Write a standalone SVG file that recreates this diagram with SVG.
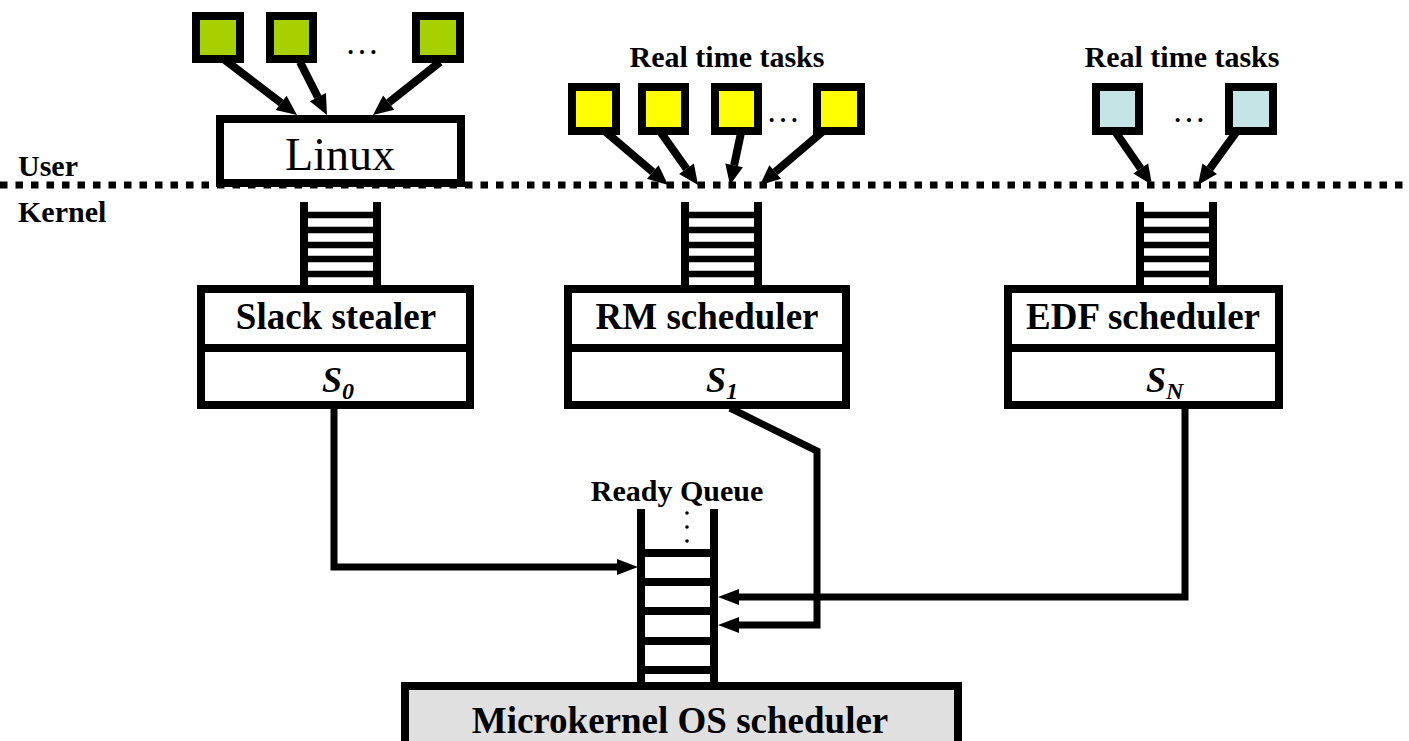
<svg xmlns="http://www.w3.org/2000/svg" width="1409" height="741" viewBox="0 0 1409 741">
<style>
.t{font-family:"Liberation Serif","Times New Roman",serif;font-weight:bold;fill:#000}
.box{fill:#fff;stroke:#000;stroke-width:8}
.sq{stroke:#000;stroke-width:8}
.q{stroke:#000;stroke-width:8;fill:none}
.r{stroke:#000;stroke-width:6.5}
.c{stroke:#000;stroke-width:7;fill:none;stroke-linejoin:miter}
.ta{stroke:#000;stroke-width:8;fill:none}
</style>
<defs>
<marker id="ah" markerUnits="userSpaceOnUse" markerWidth="21" markerHeight="16" refX="0" refY="8" orient="auto" overflow="visible"><path d="M0,0 L21,8 L0,16 z" fill="#000"/></marker>
<marker id="th" markerUnits="userSpaceOnUse" markerWidth="20" markerHeight="18" refX="0" refY="9" orient="auto" overflow="visible"><path d="M0,0 L20,9 L0,18 z" fill="#000"/></marker>
</defs>
<rect width="1409" height="741" fill="#fff"/>

<!-- user / kernel boundary -->
<g id="boundary">
<line x1="0" y1="185" x2="1409" y2="185" stroke="#000" stroke-width="7" stroke-dasharray="7.5 8"/>
<text class="t" x="18" y="176" font-size="30">User</text>
<text class="t" x="18" y="222" font-size="30">Kernel</text>
</g>

<!-- task connectors -->
<g id="task-connectors">
<line class="ta" x1="225" y1="60" x2="281.1" y2="102.9" marker-end="url(#th)"/>
<line class="ta" x1="300" y1="62" x2="317.9" y2="97.2" marker-end="url(#th)"/>
<line class="ta" x1="440" y1="62" x2="388.7" y2="102.6" marker-end="url(#th)"/>
<line class="ta" x1="600" y1="127" x2="652.8" y2="172" marker-end="url(#th)"/>
<line class="ta" x1="657" y1="127" x2="686.5" y2="168.7" marker-end="url(#th)"/>
<line class="ta" x1="742" y1="128" x2="734.1" y2="165.4" marker-end="url(#th)"/>
<line class="ta" x1="828" y1="127" x2="775.2" y2="172" marker-end="url(#th)"/>
<line class="ta" x1="1112" y1="127" x2="1140.7" y2="168.5" marker-end="url(#th)"/>
<line class="ta" x1="1240" y1="127" x2="1209.7" y2="168.8" marker-end="url(#th)"/>
</g>

<!-- Linux tasks -->
<g id="linux-tasks">
<rect class="sq" x="196" y="16" width="44" height="43" fill="#a8d000"/>
<rect class="sq" x="270" y="16" width="43" height="43" fill="#a8d000"/>
<rect class="sq" x="416" y="16" width="44" height="43" fill="#a8d000"/>
<text x="362" y="54" font-size="34" text-anchor="middle" font-family="Liberation Serif, serif">…</text>
</g>

<g id="linux">
<rect class="box" x="220" y="119" width="241" height="64"/>
<text x="340" y="170" font-size="46" text-anchor="middle" font-family="Liberation Serif, serif">Linux</text>
</g>

<!-- RM real time tasks -->
<g id="rm-tasks">
<text class="t" x="727" y="67" font-size="30" text-anchor="middle">Real time tasks</text>
<rect class="sq" x="572" y="87" width="44" height="44" fill="#ffff00"/>
<rect class="sq" x="642" y="87" width="43" height="44" fill="#ffff00"/>
<rect class="sq" x="715" y="87" width="43" height="44" fill="#ffff00"/>
<rect class="sq" x="817" y="87" width="44" height="44" fill="#ffff00"/>
<text x="783" y="122" font-size="34" text-anchor="middle" font-family="Liberation Serif, serif">…</text>
</g>

<!-- EDF real time tasks -->
<g id="edf-tasks">
<text class="t" x="1182" y="67" font-size="30" text-anchor="middle">Real time tasks</text>
<rect class="sq" x="1096" y="87" width="43" height="44" fill="#c4e4e6"/>
<rect class="sq" x="1229" y="87" width="44" height="44" fill="#c4e4e6"/>
<text x="1189" y="122" font-size="34" text-anchor="middle" font-family="Liberation Serif, serif">…</text>
</g>

<!-- Slack stealer -->
<g id="slack-stealer">
<line class="q" x1="304" y1="202" x2="304" y2="289"/>
<line class="q" x1="377" y1="202" x2="377" y2="289"/>
<line class="r" x1="304" y1="215" x2="377" y2="215"/>
<line class="r" x1="304" y1="230" x2="377" y2="230"/>
<line class="r" x1="304" y1="245" x2="377" y2="245"/>
<line class="r" x1="304" y1="259" x2="377" y2="259"/>
<line class="r" x1="304" y1="274" x2="377" y2="274"/>
<rect class="box" x="201" y="289" width="269" height="116"/>
<line class="q" x1="197" y1="348" x2="474" y2="348"/>
<text class="t" x="336" y="329" font-size="37" text-anchor="middle">Slack stealer</text>
<text class="t" x="322" y="392" font-size="36" font-style="italic">S<tspan font-size="24" dy="7">0</tspan></text>
</g>

<!-- RM scheduler -->
<g id="rm-scheduler">
<line class="q" x1="685" y1="202" x2="685" y2="289"/>
<line class="q" x1="758" y1="202" x2="758" y2="289"/>
<line class="r" x1="685" y1="215" x2="758" y2="215"/>
<line class="r" x1="685" y1="230" x2="758" y2="230"/>
<line class="r" x1="685" y1="245" x2="758" y2="245"/>
<line class="r" x1="685" y1="259" x2="758" y2="259"/>
<line class="r" x1="685" y1="274" x2="758" y2="274"/>
<rect class="box" x="568" y="289" width="278" height="116"/>
<line class="q" x1="564" y1="348" x2="850" y2="348"/>
<text class="t" x="707" y="329" font-size="37" text-anchor="middle">RM scheduler</text>
<text class="t" x="706" y="392" font-size="36" font-style="italic">S<tspan font-size="24" dy="7">1</tspan></text>
</g>

<!-- EDF scheduler -->
<g id="edf-scheduler">
<line class="q" x1="1140" y1="202" x2="1140" y2="289"/>
<line class="q" x1="1213" y1="202" x2="1213" y2="289"/>
<line class="r" x1="1140" y1="215" x2="1213" y2="215"/>
<line class="r" x1="1140" y1="230" x2="1213" y2="230"/>
<line class="r" x1="1140" y1="245" x2="1213" y2="245"/>
<line class="r" x1="1140" y1="259" x2="1213" y2="259"/>
<line class="r" x1="1140" y1="274" x2="1213" y2="274"/>
<rect class="box" x="1008" y="289" width="271" height="116"/>
<line class="q" x1="1004" y1="348" x2="1283" y2="348"/>
<text class="t" x="1143" y="329" font-size="37" text-anchor="middle">EDF scheduler</text>
<text class="t" x="1146" y="392" font-size="36" font-style="italic">S<tspan font-size="24" dy="7">N</tspan></text>
</g>

<!-- scheduler connectors -->
<g id="connectors">
<path class="c" d="M334 409 V567 H617" marker-end="url(#ah)"/>
<path class="c" d="M1185 409 V597 H739" marker-end="url(#ah)"/>
<path class="c" d="M730 408 L817 451 V625 H739" marker-end="url(#ah)"/>
</g>

<!-- ready queue -->
<g id="ready-queue">
<text class="t" x="677" y="501" font-size="30" text-anchor="middle">Ready Queue</text>
<line class="q" x1="641" y1="509" x2="641" y2="686"/>
<line class="q" x1="714" y1="509" x2="714" y2="686"/>
<line class="q" x1="641" y1="553" x2="714" y2="553"/>
<line class="q" x1="641" y1="582" x2="714" y2="582"/>
<line class="q" x1="641" y1="611" x2="714" y2="611"/>
<line class="q" x1="641" y1="641" x2="714" y2="641"/>
<line class="q" x1="641" y1="670" x2="714" y2="670"/>
<circle cx="687" cy="513" r="1.8"/>
<circle cx="687" cy="527" r="1.8"/>
<circle cx="687" cy="541" r="1.8"/>
</g>

<!-- microkernel scheduler -->
<g id="microkernel">
<rect x="405" y="686" width="553" height="70" fill="#e0e0e0" stroke="#000" stroke-width="8"/>
<text class="t" x="680" y="733" font-size="37" text-anchor="middle">Microkernel OS scheduler</text>
</g>
</svg>
